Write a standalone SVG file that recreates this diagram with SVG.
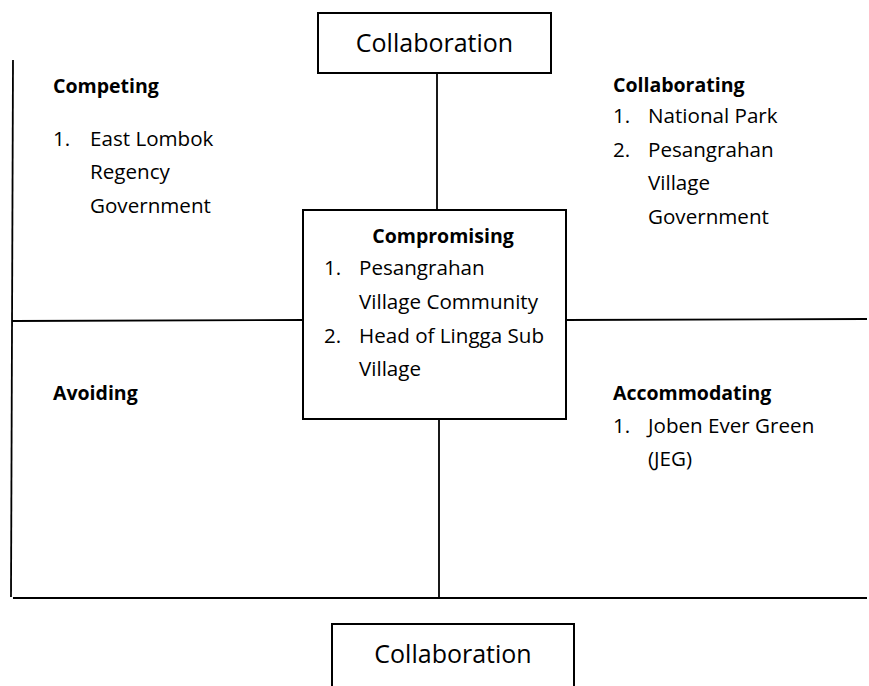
<svg xmlns="http://www.w3.org/2000/svg" width="869" height="686" viewBox="0 0 869 686">
<style>
.box{fill:#fff;stroke:#000;stroke-width:2}
.ln{stroke:#000;stroke-width:1.8;fill:none}
.t{font-family:"Open Sans","Liberation Sans",sans-serif;font-size:20.6px;fill:#000}
.b{font-family:"Open Sans","Liberation Sans",sans-serif;font-size:19.5px;font-weight:bold;fill:#000}
.big{font-family:"Open Sans","Liberation Sans",sans-serif;font-size:25px;fill:#000}
</style>
<rect width="869" height="686" fill="#fff"/>
<g id="connectors">
<line class="ln" x1="13" y1="60" x2="11" y2="597"/>
<line class="ln" x1="12" y1="321" x2="303" y2="320"/>
<line class="ln" x1="566" y1="320" x2="867" y2="319"/>
<line class="ln" x1="13" y1="598" x2="867" y2="598"/>
<line class="ln" x1="437" y1="73" x2="437" y2="210"/>
<line class="ln" x1="439" y1="419" x2="439" y2="598"/>
</g>
<g id="top-collaboration">
<rect class="box" x="318" y="13" width="233" height="60"/>
<text class="big" x="434.5" y="52" text-anchor="middle">Collaboration</text>
</g>
<g id="compromising">
<rect class="box" x="303" y="210" width="263" height="209"/>
<text class="b" x="443" y="243" text-anchor="middle">Compromising</text>
<text class="t" x="324" y="275">1.</text><text class="t" x="359" y="275">Pesangrahan</text>
<text class="t" x="359" y="309">Village Community</text>
<text class="t" x="324" y="343">2.</text><text class="t" x="359" y="343">Head of Lingga Sub</text>
<text class="t" x="359" y="376">Village</text>
</g>
<g id="bottom-collaboration">
<rect class="box" x="332" y="624" width="242" height="70"/>
<text class="big" x="453" y="663" text-anchor="middle">Collaboration</text>
</g>
<g id="competing">
<text class="b" x="53" y="93">Competing</text>
<text class="t" x="53" y="146">1.</text><text class="t" x="90" y="146">East Lombok</text>
<text class="t" x="90" y="179">Regency</text>
<text class="t" x="90" y="213">Government</text>
</g>
<g id="collaborating">
<text class="b" x="613" y="92">Collaborating</text>
<text class="t" x="613" y="123">1.</text><text class="t" x="648" y="123">National Park</text>
<text class="t" x="613" y="157">2.</text><text class="t" x="648" y="157">Pesangrahan</text>
<text class="t" x="648" y="190">Village</text>
<text class="t" x="648" y="224">Government</text>
</g>
<g id="avoiding">
<text class="b" x="53" y="400">Avoiding</text>
</g>
<g id="accommodating">
<text class="b" x="613" y="400">Accommodating</text>
<text class="t" x="613" y="433">1.</text><text class="t" x="648" y="433">Joben Ever Green</text>
<text class="t" x="648" y="466">(JEG)</text>
</g>
</svg>
